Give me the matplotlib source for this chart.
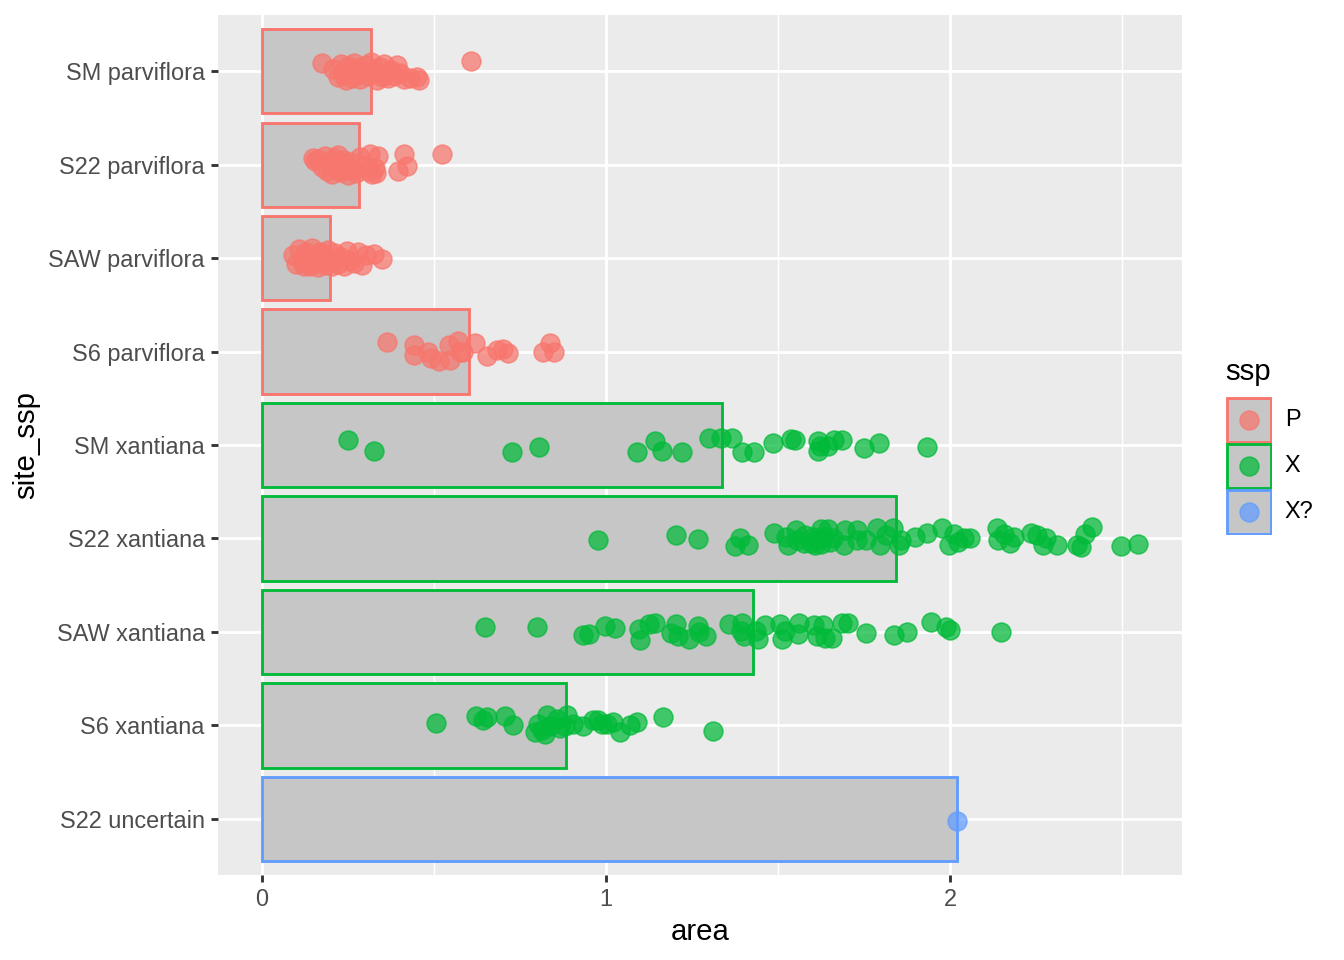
import matplotlib
matplotlib.use("Agg")
import matplotlib.pyplot as plt
from matplotlib.patches import Rectangle
import numpy as np

plt.rcParams['font.family'] = ['Liberation Sans', 'DejaVu Sans']

# categories, top to bottom as they appear
sites = ["SM parviflora", "S22 parviflora", "SAW parviflora", "S6 parviflora",
         "SM xantiana", "S22 xantiana", "SAW xantiana", "S6 xantiana", "S22 uncertain"]
site_ssp = ["P", "P", "P", "P", "X", "X", "X", "X", "X?"]
ssp_levels = ["P", "X", "X?"]
ssp_colors = {"P": "#F8766D", "X": "#00BA38", "X?": "#619CFF"}

# mean area per site (bar length)
bar_means = [0.317, 0.282, 0.198, 0.602, 1.337, 1.843, 1.427, 0.884, 2.020]

# individual observations (area) and their vertical jitter (category units, + = down)
area_sm_p = [0.176, 0.607, 0.457, 0.206, 0.221, 0.230, 0.235, 0.244, 0.250, 0.256, 0.262,
             0.267, 0.273, 0.279, 0.285, 0.294, 0.302, 0.308, 0.317, 0.326, 0.334, 0.343,
             0.349, 0.355, 0.360, 0.366, 0.375, 0.384, 0.392, 0.401, 0.413, 0.430, 0.451]
jit_sm_p = [-0.09, -0.11, 0.09, -0.02, 0.06, -0.08, 0.03, 0.10, -0.05, 0.01, 0.07,
            -0.09, 0.04, -0.03, 0.08, 0.00, -0.06, 0.05, -0.10, 0.02, 0.09, -0.04,
            0.06, -0.08, 0.03, 0.07, -0.01, 0.05, -0.07, 0.02, 0.08, 0.07, 0.06]

area_s22_p = [0.149, 0.154, 0.525, 0.414, 0.421, 0.396, 0.338, 0.314, 0.331,
              0.163, 0.174, 0.183, 0.189, 0.198, 0.203, 0.209, 0.215, 0.221, 0.227, 0.233,
              0.238, 0.244, 0.250, 0.256, 0.265, 0.273, 0.285, 0.297, 0.308, 0.320, 0.328]
jit_s22_p = [-0.07, -0.04, -0.11, -0.11, 0.02, 0.07, -0.09, -0.11, 0.09,
             -0.06, 0.03, -0.09, 0.07, -0.02, 0.10, -0.07, 0.04, -0.10, 0.08, 0.00,
             -0.05, 0.06, 0.11, -0.03, 0.05, 0.09, -0.08, 0.02, 0.07, 0.10, 0.04]

area_saw_p = [0.090, 0.099, 0.108, 0.116, 0.122, 0.128, 0.134, 0.140, 0.145, 0.151, 0.157,
              0.163, 0.169, 0.174, 0.180, 0.186, 0.192, 0.198, 0.203, 0.212, 0.221, 0.230,
              0.238, 0.247, 0.256, 0.267, 0.279, 0.291, 0.302, 0.326, 0.349]
jit_saw_p = [-0.03, 0.06, -0.10, 0.03, 0.09, -0.06, 0.01, 0.08, -0.11, 0.05, -0.02,
             0.10, -0.07, 0.04, -0.04, 0.07, -0.09, 0.02, 0.09, -0.05, 0.06, -0.01,
             0.08, -0.08, 0.03, 0.05, -0.06, 0.07, -0.03, -0.04, 0.01]

area_s6_p = [0.365, 0.442, 0.442, 0.484, 0.493, 0.515, 0.545, 0.547, 0.571, 0.576,
             0.585, 0.619, 0.653, 0.682, 0.702, 0.716, 0.816, 0.837, 0.850]
jit_s6_p = [-0.10, -0.07, 0.04, 0.00, 0.07, 0.10, -0.07, 0.09, -0.11, 0.00,
            0.01, -0.09, 0.05, -0.02, -0.03, 0.02, 0.00, -0.09, 0.01]

area_sm_x = [0.251, 0.326, 0.726, 0.806, 1.089, 1.141, 1.162, 1.222, 1.299, 1.333,
             1.367, 1.396, 1.430, 1.486, 1.537, 1.548, 1.617, 1.617, 1.622, 1.646,
             1.661, 1.685, 1.748, 1.792, 1.932]
jit_sm_x = [-0.05, 0.06, 0.07, 0.02, 0.07, -0.04, 0.06, 0.07, -0.07, -0.07,
            -0.08, 0.08, 0.07, -0.02, -0.06, -0.05, -0.04, 0.06, 0.01, 0.01,
            -0.05, -0.05, 0.03, -0.02, 0.02]

area_s22_x = [0.978, 1.203, 1.267, 1.376, 1.389, 1.411, 1.489, 1.523, 1.528, 1.551,
              1.555, 1.578, 1.595, 1.606, 1.623, 1.634, 1.645, 1.650, 1.690, 1.695,
              1.728, 1.728, 1.756, 1.787, 1.795, 1.812, 1.834, 1.851, 1.856, 1.898,
              1.932, 1.976, 1.995, 2.012, 2.023, 2.040, 2.057, 2.135, 2.140, 2.157,
              2.174, 2.185, 2.235, 2.252, 2.270, 2.279, 2.310, 2.368, 2.381, 2.392,
              2.413, 2.496, 2.546, 1.575, 1.600, 1.615, 1.625, 1.660]
jit_s22_x = [0.02, -0.04, 0.01, 0.08, 0.00, 0.07, -0.06, -0.02, 0.07, -0.09,
             0.02, -0.04, 0.05, 0.07, -0.10, -0.02, -0.10, 0.04, 0.07, -0.09,
             -0.09, 0.02, 0.02, -0.11, 0.07, -0.04, -0.11, 0.07, 0.02, -0.02,
             -0.06, -0.11, 0.07, -0.05, 0.04, 0.00, -0.01, -0.11, 0.02, -0.05,
             0.05, -0.02, -0.06, -0.04, 0.07, 0.00, 0.07, 0.07, 0.09, -0.05,
             -0.12, 0.08, 0.06, 0.05, -0.02, 0.01, 0.06, 0.00]

area_saw_x = [0.648, 0.801, 0.932, 0.951, 0.998, 1.027, 1.095, 1.100, 1.126, 1.141,
              1.188, 1.204, 1.209, 1.240, 1.266, 1.271, 1.290, 1.356, 1.396, 1.391,
              1.401, 1.437, 1.442, 1.463, 1.504, 1.510, 1.520, 1.557, 1.562, 1.603,
              1.614, 1.629, 1.635, 1.655, 1.684, 1.702, 1.754, 1.837, 1.873, 1.944,
              1.988, 1.998, 2.148]
jit_saw_x = [-0.05, -0.05, 0.03, 0.02, -0.06, -0.04, -0.03, 0.09, -0.09, -0.10,
             0.01, -0.09, 0.04, 0.07, -0.06, 0.00, 0.04, -0.09, -0.10, -0.01,
             0.04, -0.01, 0.07, -0.07, -0.08, 0.08, -0.01, 0.02, -0.10, -0.07,
             0.04, -0.07, 0.06, 0.06, -0.10, -0.10, 0.01, 0.03, 0.00, -0.11,
             -0.05, -0.02, 0.00]

area_s6_x = [0.506, 0.622, 0.643, 0.653, 0.706, 0.730, 0.794, 0.803, 0.813, 0.823,
             0.828, 0.837, 0.857, 0.866, 0.881, 0.886, 0.905, 0.934, 0.963, 0.978,
             0.988, 1.002, 1.021, 1.041, 1.070, 1.089, 1.165, 1.312]
jit_s6_x = [-0.03, -0.10, -0.06, -0.09, -0.10, 0.00, 0.07, -0.02, 0.05, 0.09,
            -0.11, 0.01, -0.07, 0.03, 0.01, -0.11, -0.02, 0.01, -0.06, -0.06,
            -0.02, -0.02, -0.04, 0.07, 0.00, -0.04, -0.09, 0.06]

area_s22_u = [2.020]
jit_s22_u = [0.02]

areas = [area_sm_p, area_s22_p, area_saw_p, area_s6_p,
         area_sm_x, area_s22_x, area_saw_x, area_s6_x, area_s22_u]
jitters = [jit_sm_p, jit_s22_p, jit_saw_p, jit_s6_p,
           jit_sm_x, jit_s22_x, jit_saw_x, jit_s6_x, jit_s22_u]

W, H = 1344, 960
fig = plt.figure(figsize=(7, 5), dpi=192)
ax = fig.add_axes([218 / W, 1 - 875 / H, (1182 - 218) / W, (875 - 15) / H])
ax.set_facecolor("#EBEBEB")

bar_fill = "#C6C6C6"
pos = np.arange(len(sites))
for i, (m, s) in enumerate(zip(bar_means, site_ssp)):
    ax.barh(pos[i], m, height=0.9, color=bar_fill, edgecolor=ssp_colors[s],
            linewidth=1.07, zorder=2)

for i, s in enumerate(site_ssp):
    ax.scatter(areas[i], pos[i] + np.array(jitters[i]), s=50,
               color=ssp_colors[s], alpha=0.72, linewidths=0.6,
               edgecolors=ssp_colors[s], zorder=3)

ax.set_xlim(-0.127, 2.673)
ax.set_ylim(len(sites) - 1 + 0.6, -0.6)
ax.set_xticks([0, 1, 2])
ax.set_xticks([0.5, 1.5, 2.5], minor=True)
ax.set_yticks(pos)
ax.set_yticklabels(sites)
ax.grid(which="major", color="white", linewidth=1.07, zorder=0)
ax.grid(which="minor", axis="x", color="white", linewidth=0.53, zorder=0)
ax.set_axisbelow(True)
for sp in ax.spines.values():
    sp.set_visible(False)
ax.tick_params(which="major", length=2.75, width=1.07, color="#333333",
               labelcolor="#4D4D4D", labelsize=8.8, pad=2.2)
ax.tick_params(which="minor", length=0)
ax.set_xlabel("area", fontsize=11, labelpad=2.5)
ax.set_ylabel("site_ssp", fontsize=11, labelpad=3)

# legend
lax = fig.add_axes([1226 / W, 1 - 535 / H, 46 / W, 138 / H])
lax.set_xlim(0, 1)
lax.set_ylim(len(ssp_levels), 0)
lax.axis("off")
for k, s in enumerate(ssp_levels):
    lax.add_patch(Rectangle((0.03, k + 0.03), 0.94, 0.94, facecolor=bar_fill,
                            edgecolor=ssp_colors[s], linewidth=1.07))
    lax.scatter([0.5], [k + 0.5], s=50, color=ssp_colors[s], alpha=0.72,
                linewidths=0.6, edgecolors=ssp_colors[s], zorder=3)
    lax.text(1.28, k + 0.5, s, fontsize=8.8, va="center", ha="left", clip_on=False)
fig.text(1225 / W, 1 - 372 / H, "ssp", fontsize=11, va="center", ha="left")

fig.savefig("out.png", dpi=192)
